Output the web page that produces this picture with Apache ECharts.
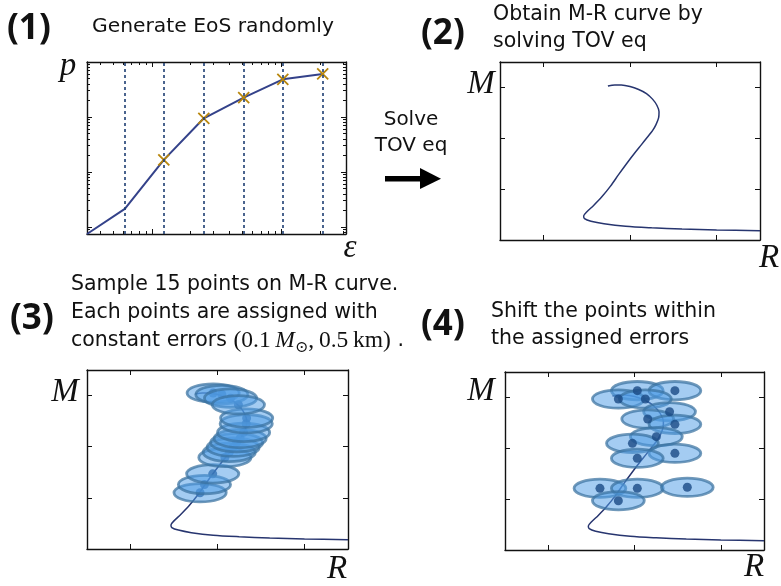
<!DOCTYPE html>
<html><head><meta charset="utf-8">
<script src="https://cdn.jsdelivr.net/npm/echarts@6/dist/echarts.min.js"></script>
<style>html,body{margin:0;padding:0;background:#fff}#main{width:781px;height:586px}</style>
</head><body><div id="main"></div><script>
// ---------- Panel (1): piecewise-polytropic EoS, stored as log10 values ----------
const logEps = [-0.5, -0.208, 0.093, 0.402, 0.71, 1.012, 1.32];
const logP   = [-0.13, 0.327, 1.218, 1.976, 2.351, 2.685, 2.782];
const epsRange = [-0.5, 1.5];
const pRange   = [-0.13, 3];
const epsDecades = [0, 1];
const pDecades   = [0, 1, 2, 3];

// ---------- M-R curve (R in km, M in solar masses) ----------
const curveR = [11.49, 11.65, 11.80, 12.00, 12.20, 12.38, 12.52, 12.62, 12.67, 12.66, 12.60, 12.52, 12.40, 12.26, 12.10, 11.92, 11.74, 11.55, 11.35, 11.16, 11.00, 10.93, 10.95, 11.10, 11.40, 11.90, 12.50, 13.20, 14.00, 15.00];
const curveM = [3.03, 3.05, 3.05, 3.02, 2.96, 2.88, 2.77, 2.65, 2.52, 2.40, 2.27, 2.15, 2.02, 1.87, 1.70, 1.50, 1.29, 1.06, 0.85, 0.68, 0.55, 0.47, 0.42, 0.37, 0.32, 0.27, 0.24, 0.215, 0.197, 0.183];
const rRange = [9, 15], mRange = [0, 3.5];
const rTicks = [10, 12, 14], mTicks = [1, 2, 3];

// 15 points sampled on the curve
const sampledR = [11.60, 11.70, 11.89, 12.17, 12.27, 12.36, 12.44, 12.52, 12.60, 12.66, 12.67, 11.90, 12.10, 12.30, 12.48];
const sampledM = [1.10, 1.26, 1.47, 1.79, 1.89, 1.99, 2.08, 2.16, 2.28, 2.45, 2.56, 3.05, 3.02, 2.95, 2.82];
// the same points shifted inside their error ellipses
const shiftedR = [12.065, 12.936, 11.626, 12.251, 12.812, 12.306, 12.936, 12.506, 11.952, 12.936, 12.065, 11.2, 12.065, 13.223, 11.626];
const shiftedM = [3.133, 3.133, 2.969, 2.969, 2.719, 2.576, 2.471, 2.228, 2.097, 1.901, 1.803, 1.213, 1.213, 1.233, 0.969];
// ellipse half-widths drawn around each point
const errHalfR = 0.6, errHalfM = 0.18;

const SANS = '"DejaVu Sans", "Noto Sans", sans-serif';
const BOLD = '"Noto Sans", "DejaVu Sans", sans-serif';
const SERIF = '"Liberation Serif", "DejaVu Serif", serif';
const INK = '#111';

function logMinor(decades, range) {
  const out = [];
  for (let d = decades[0] - 1; d <= decades[decades.length - 1]; d++) {
    for (let k = 2; k <= 9; k++) {
      const v = d + Math.log10(k);
      if (v > range[0] && v < range[1]) out.push(v);
    }
  }
  return out;
}

const xAxes = [], yAxes = [];
function axis(list, grid, pos, range, ticks, len, line) {
  list.push({
    type: 'value', gridIndex: grid, position: pos, min: range[0], max: range[1],
    axisLine: { show: line, onZero: false, lineStyle: { color: INK, width: 1.4 } },
    axisTick: { show: true, inside: true, length: len, customValues: ticks, lineStyle: { color: INK, width: 1 } },
    axisLabel: { show: false }, splitLine: { show: false }
  });
  return list.length - 1;
}

// grid 0: EoS panel with log-style ticks on all four sides
const epsMinor = logMinor(epsDecades, epsRange), pMinor = logMinor(pDecades, pRange);
const gx0 = axis(xAxes, 0, 'bottom', epsRange, epsDecades, 5, true);
axis(xAxes, 0, 'bottom', epsRange, epsMinor, 3, false);
axis(xAxes, 0, 'top', epsRange, epsDecades, 5, true);
axis(xAxes, 0, 'top', epsRange, epsMinor, 3, false);
const gy0 = axis(yAxes, 0, 'left', pRange, pDecades, 5, true);
axis(yAxes, 0, 'left', pRange, pMinor, 3, false);
axis(yAxes, 0, 'right', pRange, pDecades, 5, true);
axis(yAxes, 0, 'right', pRange, pMinor, 3, false);

// grids 1..3: M-R panels
const mrAxes = [];
for (let g = 1; g <= 3; g++) {
  const xi = axis(xAxes, g, 'bottom', rRange, rTicks, 5, true);
  axis(xAxes, g, 'top', rRange, rTicks, 5, true);
  const yi = axis(yAxes, g, 'left', mRange, mTicks, 5, true);
  axis(yAxes, g, 'right', mRange, mTicks, 5, true);
  mrAxes.push([xi, yi]);
}

const zip = (a, b) => a.map((v, i) => [v, b[i]]);
const curveData = zip(curveR, curveM);

function curveSeries(ax) {
  return { type: 'line', xAxisIndex: ax[0], yAxisIndex: ax[1], data: curveData, smooth: 0.3,
    showSymbol: false, symbol: 'none', lineStyle: { color: '#27356f', width: 1.5 }, z: 2, silent: true };
}
function ellipseSeries(ax, data) {
  return { type: 'custom', xAxisIndex: ax[0], yAxisIndex: ax[1], data: data, z: 3, silent: true,
    renderItem: function (params, api) {
      const c = api.coord([api.value(0), api.value(1)]);
      const s = api.size([2 * errHalfR, 2 * errHalfM]);
      return { type: 'ellipse', shape: { cx: c[0], cy: c[1], rx: s[0] / 2, ry: s[1] / 2 },
        style: { fill: 'rgba(80,158,230,0.52)', stroke: 'rgba(58,114,160,0.72)', lineWidth: 2.8 } };
    } };
}
function dotSeries(ax, data, z) {
  return { type: 'scatter', xAxisIndex: ax[0], yAxisIndex: ax[1], data: data, symbolSize: 9, z: z, silent: true,
    itemStyle: { color: '#1a4a84' } };
}

const eosData = zip(logEps, logP);
const series = [
  { type: 'line', xAxisIndex: gx0, yAxisIndex: gy0, data: eosData, showSymbol: false, symbol: 'none',
    lineStyle: { color: '#34428a', width: 2 }, z: 3, silent: true,
    markLine: { silent: true, symbol: 'none', label: { show: false },
      lineStyle: { color: '#1f3f73', type: [3, 3], width: 1.6 },
      data: logEps.slice(1).map(v => ({ xAxis: v })) } },
  { type: 'custom', xAxisIndex: gx0, yAxisIndex: gy0, data: eosData.slice(2), z: 4, silent: true,
    renderItem: function (params, api) {
      const c = api.coord([api.value(0), api.value(1)]);
      const h = 5.5, st = { stroke: '#b8860b', lineWidth: 1.8 };
      return { type: 'group', children: [
        { type: 'line', shape: { x1: c[0] - h, y1: c[1] - h, x2: c[0] + h, y2: c[1] + h }, style: st },
        { type: 'line', shape: { x1: c[0] - h, y1: c[1] + h, x2: c[0] + h, y2: c[1] - h }, style: st } ] };
    } },
  curveSeries(mrAxes[0]),
  curveSeries(mrAxes[1]),
  dotSeries(mrAxes[1], zip(sampledR, sampledM), 2),
  ellipseSeries(mrAxes[1], zip(sampledR, sampledM)),
  curveSeries(mrAxes[2]),
  ellipseSeries(mrAxes[2], zip(shiftedR, shiftedM)),
  dotSeries(mrAxes[2], zip(shiftedR, shiftedM), 5)
];

function txt(x, y, text, size, opts) {
  opts = opts || {};
  return { type: 'text', x: x, y: y, z: 10, silent: true, style: Object.assign({
    text: text, fontSize: size, fontFamily: SANS, fill: INK,
    textAlign: 'left', textVerticalAlign: 'middle' }, opts) };
}
function num(x, y, text) {
  return txt(x, y, text, 35, { fontFamily: BOLD, fontWeight: 'bold' });
}
function mathLabel(x, y, text) {
  return txt(x, y, text, 33, { fontFamily: SERIF, fontStyle: 'italic', textAlign: 'center' });
}

const graphic = [
  num(7, 29, '(1)'),
  txt(92, 27, 'Generate EoS randomly', 20.3),
  num(421, 34, '(2)'),
  txt(493, 15, 'Obtain M-R curve by', 20.5),
  txt(493, 42, 'solving TOV eq', 20.5),
  txt(411, 120, 'Solve', 20, { textAlign: 'center' }),
  txt(411, 146, 'TOV eq', 20, { textAlign: 'center' }),
  { type: 'group', z: 10, silent: true, children: [
    { type: 'rect', shape: { x: 385, y: 176, width: 37, height: 5.5 }, style: { fill: '#000' } },
    { type: 'polygon', shape: { points: [[420, 168], [441, 178.7], [420, 189]] }, style: { fill: '#000' } } ] },
  num(10, 319, '(3)'),
  txt(71, 285, 'Sample 15 points on M-R curve.', 20.5),
  txt(71, 313, 'Each points are assigned with', 20.5),
  { type: 'text', x: 71, y: 341, z: 10, silent: true, style: {
    text: '{a|constant errors }{b|(0.1\u2009}{m|M}{s|\u2299}{b|,\u20090.5\u2009km)}{a| .}',
    textVerticalAlign: 'middle', fill: INK,
    rich: {
      a: { fontFamily: SANS, fontSize: 20.5, fill: INK, color: INK, lineHeight: 30 },
      b: { fontFamily: SERIF, fontSize: 23.5, fill: INK, color: INK, lineHeight: 30 },
      m: { fontFamily: SERIF, fontSize: 23.5, fontStyle: 'italic', fill: INK, color: INK, lineHeight: 30 },
      s: { fontFamily: SERIF, fontSize: 16, fill: INK, color: INK, lineHeight: 30, verticalAlign: 'bottom' }
    } } },
  num(421, 325, '(4)'),
  txt(491, 312, 'Shift the points within', 20.5),
  txt(491, 339, 'the assigned errors', 20.5),
  mathLabel(68, 66, 'p'),
  mathLabel(350, 248, '\u03b5'),
  mathLabel(481, 84, 'M'),
  mathLabel(769, 258, 'R'),
  mathLabel(65, 392, 'M'),
  mathLabel(337, 569, 'R'),
  mathLabel(481, 391, 'M'),
  mathLabel(754, 567, 'R')
];

const chart = echarts.init(document.getElementById('main'), null, { renderer: 'canvas' });
chart.setOption({
  animation: false,
  backgroundColor: '#fff',
  grid: [
    { left: 87, top: 62, width: 259, height: 172 },
    { left: 500, top: 62, width: 260, height: 178 },
    { left: 87, top: 370, width: 261, height: 179 },
    { left: 505, top: 372, width: 259, height: 178 }
  ],
  xAxis: xAxes, yAxis: yAxes,
  series: series,
  graphic: graphic
});
</script></body></html>
